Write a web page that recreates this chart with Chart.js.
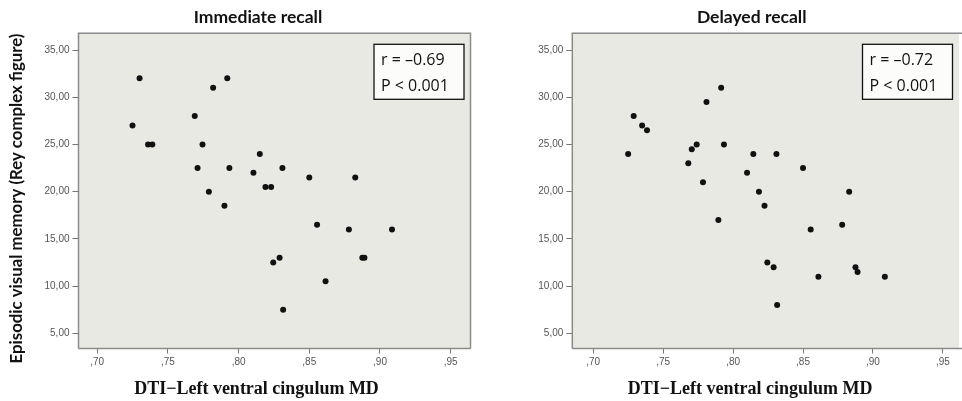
<!DOCTYPE html>
<html>
<head>
<meta charset="utf-8">
<title>DTI – Rey complex figure</title>
<style>
    html, body { margin: 0; padding: 0; background: #fff; }
    #quadro { position: relative; width: 962px; height: 401px; overflow: hidden; }
    #graficoImediato { position: absolute; left: 0; top: 0; }
    #graficoTardio { position: absolute; left: 480px; top: 0; }
</style>
</head>
<body>
<div id="quadro">
    <canvas id="graficoImediato" width="480" height="401"></canvas>
    <canvas id="graficoTardio" width="482" height="401"></canvas>
</div>

<script src="https://cdn.jsdelivr.net/npm/chart.js"></script>
<script>
    // Textos
    var panelTitles = ["Immediate recall", "Delayed recall"];
    var xTitle = "DTI\u2212Left ventral cingulum MD";
    var yTitle = "Episodic visual memory (Rey complex figure)";
    var statR = ["r = \u20130.69", "r = \u20130.72"];
    var statP = ["P < 0.001", "P < 0.001"];

    // Marcas dos eixos
    var xTicks = [0.70, 0.75, 0.80, 0.85, 0.90, 0.95];
    var yTicks = [5, 10, 15, 20, 25, 30, 35];

    // Immediate recall
    var mdImediato  = [0.730, 0.725, 0.736, 0.739, 0.769, 0.782, 0.792, 0.7745, 0.771, 0.7935,
                       0.815, 0.8105, 0.831, 0.850, 0.8825, 0.819, 0.823, 0.779, 0.790, 0.8555,
                       0.878, 0.9085, 0.8245, 0.829, 0.8875, 0.889, 0.8615, 0.8315];
    var memImediato = [32, 27, 25, 25, 28, 31, 32, 25, 22.5, 22.5,
                       24, 22, 22.5, 21.5, 21.5, 20.5, 20.5, 20, 18.5, 16.5,
                       16, 16, 12.5, 13, 13, 13, 10.5, 7.5];

    // Delayed recall
    var mdTardio  = [0.725, 0.729, 0.735, 0.7385, 0.768, 0.7705, 0.774, 0.7785, 0.781, 0.7915,
                     0.7935, 0.8145, 0.810, 0.831, 0.850, 0.8185, 0.883, 0.8225, 0.7895, 0.8555,
                     0.878, 0.8245, 0.829, 0.8875, 0.889, 0.861, 0.9085, 0.8315];
    var memTardio = [24, 28, 27, 26.5, 23, 24.5, 25, 21, 29.5, 31,
                     25, 24, 22, 24, 22.5, 20, 20, 18.5, 17, 16,
                     16.5, 12.5, 12, 12, 11.5, 11, 11, 8];

    function pontos(xs, ys) {
        return xs.map(function (x, i) { return { x: x, y: ys[i] }; });
    }

    // Fundo cinza, moldura, títulos e caixa de correlação
    var molduraPlugin = {
        id: "moldura",
        beforeDraw: function (chart, args, opts) {
            var ctx = chart.ctx;
            var a = chart.chartArea;
            ctx.save();
            ctx.fillStyle = "#e9e9e4";
            ctx.fillRect(a.left, a.top, a.right - a.left, a.bottom - a.top);
            ctx.strokeStyle = "#8a8a8a";
            ctx.lineWidth = 1.5;
            ctx.beginPath();
            ctx.moveTo(a.left, a.bottom);
            ctx.lineTo(a.left, a.top);
            ctx.lineTo(a.right + (opts.openRight ? 5 : 0), a.top);
            if (!opts.openRight) ctx.lineTo(a.right, a.bottom);
            ctx.moveTo(a.right + (opts.openRight ? 5 : 0), a.bottom);
            ctx.lineTo(a.left, a.bottom);
            ctx.stroke();
            ctx.restore();
        },
        afterDraw: function (chart, args, opts) {
            var ctx = chart.ctx;
            var a = chart.chartArea;
            var i = opts.idx;
            ctx.save();
            ctx.fillStyle = "#111";
            ctx.textAlign = "center";
            ctx.textBaseline = "middle";

            // título do painel
            ctx.font = "bold 17.5px Lato";
            ctx.fillText(panelTitles[i], opts.titleX, 17);

            // título do eixo x
            ctx.font = "bold 18px 'Liberation Serif'";
            ctx.fillText(xTitle, opts.titleX - 1.5, 389);

            // título do eixo y (só no primeiro painel)
            if (opts.showY) {
                ctx.save();
                ctx.translate(17, 198.5);
                ctx.rotate(-Math.PI / 2);
                ctx.font = "bold 16.8px Lato";
                ctx.fillText(yTitle, 0, 0);
                ctx.restore();
            }

            // caixa r / P
            var bw = 90, bh = 55;
            var bx = a.right - 6.5 - bw;
            var by = a.top + 11;
            ctx.fillStyle = "#fcfcfa";
            ctx.fillRect(bx, by, bw, bh);
            ctx.strokeStyle = "#111";
            ctx.lineWidth = 1.3;
            ctx.strokeRect(bx, by, bw, bh);
            ctx.fillStyle = "#111";
            ctx.textAlign = "left";
            ctx.font = "16px 'Open Sans'";
            ctx.fillText(statR[i], bx + 7, by + 16.5);
            ctx.fillText(statP[i], bx + 7, by + 42.5);
            ctx.restore();
        }
    };

    function criarGrafico(id, dados, cfg) {
        var ctx = document.getElementById(id).getContext("2d");
        return new Chart(ctx, {
            type: "scatter",
            data: {
                datasets: [{
                    data: dados,
                    backgroundColor: "#111",
                    borderColor: "#111",
                    pointRadius: 3,
                    pointHoverRadius: 3,
                    borderWidth: 0
                }]
            },
            options: {
                responsive: false,
                animation: false,
                events: [],
                layout: { padding: { left: 0, right: cfg.padRight, top: 33.3, bottom: 0 } },
                plugins: {
                    legend: { display: false },
                    tooltip: { enabled: false },
                    title: { display: false },
                    moldura: cfg.moldura
                },
                scales: {
                    x: {
                        type: "linear",
                        min: cfg.xMin,
                        max: cfg.xMax,
                        afterFit: function (scale) { scale.height = 52.5; },
                        afterBuildTicks: function (scale) {
                            scale.ticks = xTicks.map(function (v) { return { value: v }; });
                        },
                        border: { display: false },
                        grid: { drawOnChartArea: false, drawTicks: true, tickLength: 5, color: "#777", lineWidth: 1 },
                        ticks: {
                            padding: 3,
                            maxRotation: 0,
                            autoSkip: false,
                            color: "#555",
                            font: { family: "'Liberation Sans'", size: 10 },
                            callback: function (v) { return v.toFixed(2).replace("0.", ","); }
                        }
                    },
                    y: {
                        type: "linear",
                        min: 3.39,
                        max: 36.77,
                        afterFit: function (scale) { scale.width = cfg.yWidth; },
                        afterBuildTicks: function (scale) {
                            scale.ticks = yTicks.map(function (v) { return { value: v }; });
                        },
                        border: { display: false },
                        grid: { drawOnChartArea: false, drawTicks: true, tickLength: 6, color: "#777", lineWidth: 1 },
                        ticks: {
                            padding: 3,
                            autoSkip: false,
                            color: "#555",
                            font: { family: "'Liberation Sans'", size: 10 },
                            callback: function (v) { return v.toFixed(2).replace(".", ","); }
                        }
                    }
                }
            },
            plugins: [molduraPlugin]
        });
    }

    criarGrafico("graficoImediato", pontos(mdImediato, memImediato), {
        padRight: 9.5, yWidth: 78.5, xMin: 0.6868, xMax: 0.9640,
        moldura: { idx: 0, titleX: 258, showY: true, openRight: false }
    });

    criarGrafico("graficoTardio", pontos(mdTardio, memTardio), {
        padRight: 0, yWidth: 92.3, xMin: 0.6851, xMax: 0.9615,
        moldura: { idx: 1, titleX: 271.7, showY: false, openRight: true }
    });
</script>
</body>
</html>
